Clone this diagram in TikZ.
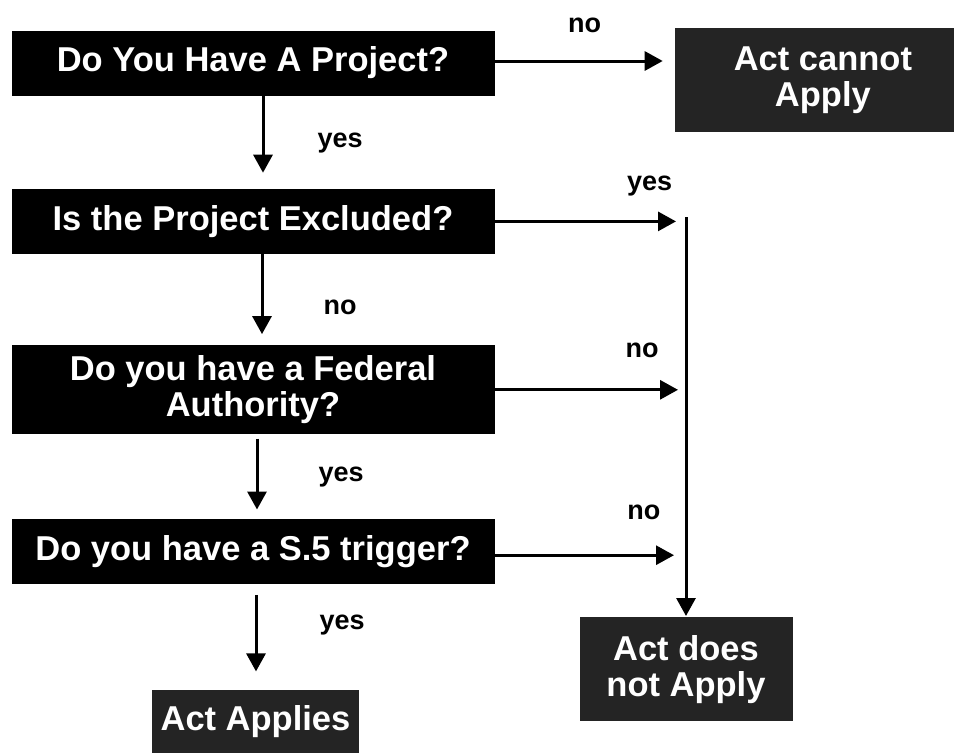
\documentclass[tikz,border=0pt]{standalone}
\usepackage{fontspec}
\setmainfont{Liberation Sans}
\usetikzlibrary{positioning,arrows.meta}

\begin{document}
\begin{tikzpicture}[
            x=1pt, y=-1pt,
            question/.style={fill=black, text=white, align=center, minimum width=483pt, minimum height=65pt, inner sep=0pt, font=\fontsize{34.5}{36}\selectfont\bfseries},
            verdict/.style={fill=black!86, text=white, align=center, minimum height=104pt, inner sep=0pt, font=\fontsize{34.5}{36}\selectfont\bfseries},
            answer/.style={font=\fontsize{27}{30}\selectfont\bfseries, inner sep=0pt},
            flow/.style={-{Triangle[length=18pt,width=19pt]}, line width=3pt}
        ]
            \useasboundingbox (0,0) rectangle (954,753);

            \node[question] (q1) at (253,63) {Do You Have A Project?};
            \node[question, below=93pt of q1] (q2) {Is the Project Excluded?};
            \node[question, minimum height=89pt, below=91pt of q2] (q3) {Do you have a Federal\\Authority?};
            \node[question, below=84pt of q3] (q4) {Do you have a S.5 trigger?};

            \node[verdict, minimum width=296pt, right=180pt of q1.north east, anchor=north west, yshift=2.5pt] (t1) {Act cannot\\Apply};
            \coordinate (bus) at (686,217);
            \node[verdict, minimum width=213pt, below=400pt of bus] (t2) {Act does\\not Apply};
            \node[verdict, minimum width=207pt, minimum height=64pt, below=105.5pt of q4, xshift=2.5pt] (t3) {Act Applies};

            \draw[flow, shorten >=16pt] ([xshift=10pt]q1.south) -- ([xshift=10pt]q1.south |- q2.north)
                node[answer, midway, anchor=base west, xshift=53pt, yshift=-5pt] (y1) {yes};
            \draw[flow, shorten >=11pt] ([xshift=9pt]q2.south) -- ([xshift=9pt]q2.south |- q3.north)
                node[answer, midway, anchor=base west, xshift=60pt, yshift=-15pt] (n2) {no};
            \draw[flow, shorten >=9pt, shorten <=4pt] ([xshift=4pt]q3.south) -- ([xshift=4pt]q3.south |- q4.north)
                node[answer, midway, anchor=base west, xshift=60pt, yshift=-4.5pt] (y3) {yes};
            \draw[flow, shorten >=18pt, shorten <=11pt] ([xshift=3pt]q4.south) -- ([xshift=3pt]q4.south |- t3.north)
                node[answer, midway, anchor=base west, xshift=62pt, yshift=7pt] (y4) {yes};

            \draw[flow, shorten >=12pt] ([yshift=2pt]q1.east) -- ([yshift=2pt]q1.east -| t1.west)
                node[answer, pos=0.5, anchor=base, yshift=29pt] (n1) {no};
            \draw[flow, shorten >=10pt] (q2.east) -- (q2.east -| bus)
                node[answer, pos=0.81, anchor=base, yshift=31pt] (y2) {yes};
            \draw[flow, shorten >=8pt] (q3.east) -- (q3.east -| bus)
                node[answer, pos=0.77, anchor=base, yshift=32pt] (n3) {no};
            \draw[flow, shorten >=12pt] ([yshift=-4pt]q4.east) -- ([yshift=-4pt]q4.east -| bus)
                node[answer, pos=0.78, anchor=base, yshift=36pt] (n4) {no};

            \draw[flow, shorten >=1pt] (bus) -- (t2.north);
        \end{tikzpicture}
\end{document}
